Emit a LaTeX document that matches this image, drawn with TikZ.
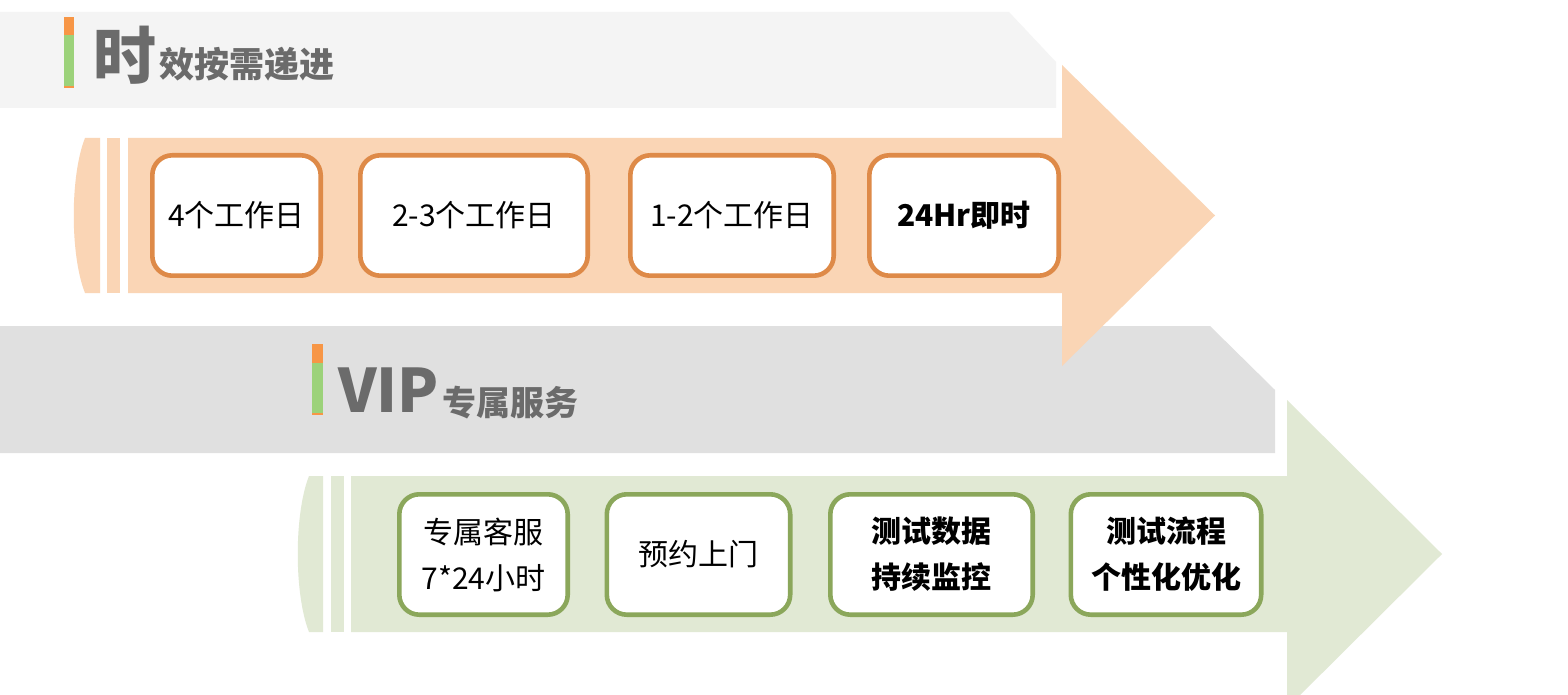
\documentclass[tikz,border=0pt]{standalone}
\usepackage{fontspec}
\setmainfont{Noto Sans CJK SC}
\definecolor{bannerA}{HTML}{F4F4F4}
\definecolor{bannerB}{HTML}{E0E0E0}
\definecolor{ofill}{HTML}{FAD5B5}
\definecolor{oline}{HTML}{DE8A48}
\definecolor{gfill}{HTML}{E1E9D4}
\definecolor{gline}{HTML}{8BA75B}
\definecolor{barO}{HTML}{F79646}
\definecolor{barG}{HTML}{9CD27A}
\definecolor{titlegray}{HTML}{6B6B6B}
\begin{document}
\begin{tikzpicture}[x=0.5pt,y=-0.5pt,
  obox/.style={draw=oline, line width=2.3pt, fill=white, rounded corners=10pt,
    minimum height=60.2pt, align=center, inner sep=0pt, text=black,
    font=\fontsize{15}{23}\selectfont},
  gbox/.style={obox, draw=gline},
  bigtitle/.style={anchor=base west, inner sep=0pt, text=titlegray, font=\bfseries\fontsize{31.5}{36}\selectfont},
  subtitle/.style={anchor=base west, inner sep=0pt, text=titlegray, font=\bfseries\fontsize{17.5}{20}\selectfont}
]
\useasboundingbox (0,0) rectangle (1568,695);
\clip (0,0) rectangle (1568,695);
\fill[white] (0,0) rectangle (1568,695);

% banners
\fill[bannerA] (0,12) -- (1009,12) -- (1056,62) -- (1056,108) -- (0,108) -- cycle;
\fill[bannerB] (0,326) -- (1210,326) -- (1275,390) -- (1275,453) -- (0,453) -- cycle;

% title 1
\fill[barO] (64,17) rectangle (74,88);
\fill[barG] (64,35) rectangle (74,86);
\node[bigtitle] (t1a) at (93,80) {时};
\node[subtitle] (t1b) at (159,78) {效按需递进};

% title 2
\fill[barO] (312,344) rectangle (323,415);
\fill[barG] (312,363) rectangle (323,413);
\node[bigtitle, font=\bfseries\fontsize{30}{36}\selectfont] (t2a) at (338,412) {VIP};
\node[subtitle, font=\bfseries\fontsize{17}{20}\selectfont] (t2b) at (442,415) {专属服务};

% orange arrow
\fill[ofill] (85,138) -- (100,138) -- (100,293) -- (85,293) .. controls (70,255) and (70,176) .. (85,138) -- cycle;
\fill[ofill] (107,138) rectangle (120,293);
\fill[ofill] (128,138) -- (1062,138) -- (1062,65) -- (1215,215.5) -- (1062,366) -- (1062,293) -- (128,293) -- cycle;

% green arrow
\fill[gfill] (309,476) -- (323,476) -- (323,632) -- (309,632) .. controls (294,594) and (294,514) .. (309,476) -- cycle;
\fill[gfill] (331,476) rectangle (344,632);
\fill[gfill] (351,476) -- (1287,476) -- (1287,400) -- (1442,554) -- (1287,708) -- (1287,632) -- (351,632) -- cycle;

% top boxes
\node[obox, minimum width=84.2pt] (a1) at (236.5,215.5) {4个工作日};
\node[obox, minimum width=113.7pt] (a2) at (474,215.5) {2-3个工作日};
\node[obox, minimum width=101.7pt] (a3) at (732,215.5) {1-2个工作日};
\node[obox, minimum width=94.7pt, font=\bfseries\fontsize{15}{23}\selectfont] (a4) at (964,215.5) {24Hr即时};

% bottom boxes
\node[gbox, minimum width=84.2pt] (b1) at (483.5,554.5) {专属客服\\7*24小时};
\node[gbox, minimum width=91.7pt] (b2) at (698.5,554.5) {预约上门};
\node[gbox, minimum width=101.2pt, font=\bfseries\fontsize{15}{23}\selectfont] (b3) at (931.5,554.5) {测试数据\\持续监控};
\node[gbox, minimum width=95.2pt, font=\bfseries\fontsize{15}{23}\selectfont] (b4) at (1166,554.5) {测试流程\\个性化优化};
\end{tikzpicture}
\end{document}
